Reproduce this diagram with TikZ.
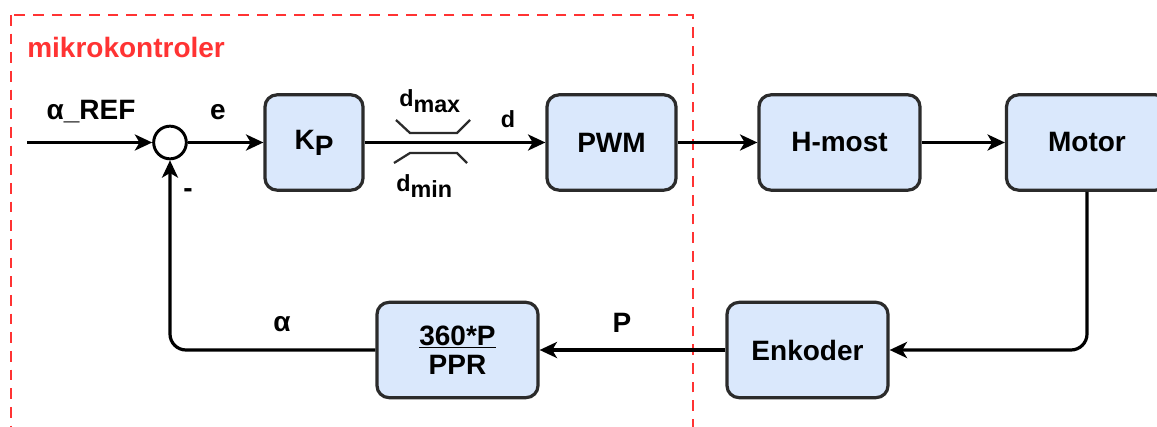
\documentclass[tikz,border=0pt]{standalone}
\usepackage{fontspec}
\setmainfont{Liberation Sans}
\usetikzlibrary{arrows.meta}
\definecolor{boxfill}{HTML}{DAE8FC}
\definecolor{boxline}{HTML}{2B2B2B}
\definecolor{mcred}{HTML}{FF3333}
\newcommand{\lowsub}[1]{\raisebox{-4.5pt}{#1}}
\tikzset{
  blk/.style={draw=boxline, fill=boxfill, line width=2.4pt, rounded corners=9pt,
    minimum height=71.5pt, font=\fontsize{21}{24}\selectfont\bfseries, align=center, inner sep=0pt},
  narrow/.style={blk, minimum width=73.5pt},
  wide/.style={blk, minimum width=120.75pt},
  conn/.style={line width=2.4pt, draw=black, -{Stealth[length=13pt,width=12pt,inset=3.5pt]}},
  lbl/.style={font=\fontsize{21}{24}\selectfont\bfseries, inner sep=0pt},
  slbl/.style={font=\fontsize{17.5}{20}\selectfont\bfseries, inner sep=0pt},
  sat/.style={line width=1.7pt, draw=boxline},
}
\begin{document}
\begin{tikzpicture}[x=0.75pt,y=-0.75pt]
\useasboundingbox (0,0) rectangle (1157,427);
\clip (0,0) rectangle (1157,427);
% microcontroller region
\draw[mcred, line width=2pt, dash pattern=on 8pt off 6pt] (11,15) rectangle (693,460);
\node[anchor=west, text=mcred, lbl] (mc) at (27,47) {mikrokontroler};
% blocks
\node[circle, draw=black, fill=white, line width=2.2pt, minimum size=24.5pt, inner sep=0pt] (sum) at (170,142.5) {};
\node[narrow] (kp) at (314,142.5) {K\lowsub{P}};
\node[blk, minimum width=96.75pt] (pwm) at (611.5,142.5) {PWM};
\node[wide] (hm) at (839.5,142.5) {H-most};
\node[wide] (mot) at (1087,142.5) {Motor};
\node[wide] (enk) at (807.5,350) {Enkoder};
\node[wide] (ppr) at (457.5,350) {\underline{360*P}\\[-2pt]PPR};
% coordinates
\coordinate (in) at (27,142.5);
\coordinate (c1) at (1087,350);
\coordinate (c2) at (170,350);
% connectors
\draw[conn] (in) -- (sum.west);
\draw[conn] (sum.east) -- (kp.west);
\draw[conn] (kp.east) -- (pwm.west);
\draw[conn] (pwm.east) -- (hm.west);
\draw[conn] (hm.east) -- (mot.west);
\draw[conn, rounded corners=12pt] (mot.south) -- (c1) -- (enk.east);
\draw[conn] (enk.west) -- (ppr.east);
\draw[conn, rounded corners=12pt] (ppr.west) -- (c2) -- (sum.south);
% saturation symbol
\draw[sat] (396,120) -- (410,133) -- (457,133) -- (470,120);
\draw[sat] (394,163) -- (410,153) -- (457,153) -- (467,163);
% labels
\node[lbl] (lref) at (91,112) {α\_REF};
\node[lbl] (le) at (218,112) {e};
\node[lbl] (lminus) at (188,193) {-};
\node[slbl, anchor=base west] (ldmax) at (399,107) {d\lowsub{max}};
\node[slbl, anchor=base west] (ldmin) at (396,192) {d\lowsub{min}};
\node[slbl] (ld) at (508,119) {d};
\node[lbl] (lalpha) at (282,324) {α};
\node[lbl] (lp) at (622,323) {P};
\end{tikzpicture}
\end{document}
